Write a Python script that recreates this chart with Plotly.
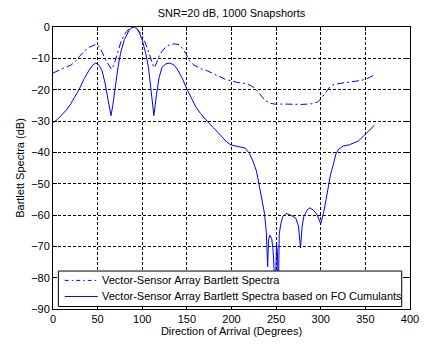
import plotly.graph_objects as go

# Conventional vector-sensor Bartlett spectrum (dash-dot)
conv_deg = [0, 5, 10, 15, 20, 25, 30, 35, 40, 45, 48, 51, 55, 59, 62, 65.5, 68, 70, 73, 76,
            80, 84, 88, 91, 94, 98, 102, 105, 108, 111, 113.5, 116, 119, 122, 126, 131, 136,
            141, 145, 149, 153, 158, 163, 168, 173, 178, 185, 193, 200, 207, 215, 221, 226,
            230, 234, 238, 243, 248, 260, 270, 280, 290, 296, 300, 303, 306, 310, 315, 320,
            326, 332, 340, 346, 351, 356, 360]
conv_db = [-14.7, -14, -13.3, -12.7, -12.2, -11, -9.3, -7.7, -6.5, -5.8, -5.6, -6, -8, -10.5,
           -12, -13.5, -12.3, -10.5, -7.5, -4.8, -2.5, -0.9, -0.1, 0, -0.5, -2, -4, -6, -8.5,
           -11.5, -13, -11.5, -9.3, -7.8, -6.5, -5.6, -5.4, -5.6, -6.8, -8.5, -10.8, -12.2,
           -13, -13.6, -14, -14.6, -15.6, -16.7, -17.3, -17.7, -18, -18.6, -19.5, -20.8,
           -22.3, -23.5, -24.3, -24.6, -24.6, -24.7, -24.7, -24.5, -24, -23, -21.8, -20.5,
           -19.2, -18.3, -18, -17.8, -17.6, -17.3, -17, -16.6, -15.8, -15.3]

# Bartlett spectrum based on fourth-order cumulants (solid)
fo_deg = [0, 5, 10, 15, 20, 25, 30, 35, 40, 45, 48, 52, 55, 58, 61, 63, 65, 67, 70, 73, 76,
          80, 85, 88, 91, 94, 97, 100, 104, 107, 110, 113, 116, 119, 122, 126, 131, 136, 140,
          145, 150, 155, 160, 165, 170, 175, 180, 185, 190, 195, 200, 205, 210, 215, 220,
          224, 228, 231, 234, 237, 239, 240.5, 241.5, 243, 245, 246.5, 247.5, 248.5, 249.5,
          250.5, 251.5, 252.5, 253.5, 255.5, 257.5, 261, 266, 272, 275, 277.3, 279, 281,
          285, 288, 292, 296, 300, 303, 306, 308.5, 311, 314, 317, 320, 325, 332, 337, 342,
          348, 354, 360]
fo_db = [-30.5, -29.5, -28, -26.5, -24.5, -22, -19.5, -16.5, -14, -12, -11.5, -12.3, -14,
         -17.5, -22.5, -26, -28.3, -25, -18.5, -12.5, -8, -4, -1.2, -0.2, 0, -0.5, -2, -4.2,
         -8.5, -13, -20.5, -28.3, -21.5, -16, -13, -11.8, -11.5, -12.2, -13.8, -16.5, -19.8,
         -22.8, -25.5, -27.5, -29.3, -30.8, -32.2, -33.8, -35.3, -36.8, -37.7, -38, -38.2,
         -38.6, -40.3, -42.8, -46, -50.5, -55, -59.5, -65.5, -76.5, -68, -66.5, -67.5, -71,
         -76, -86, -80, -69, -72, -86, -66, -62.5, -60.5, -59.5, -60, -61, -63.5, -70.5,
         -64, -60.5, -58.3, -57.7, -58.5, -60, -62.8, -59.5, -55, -51, -47, -44, -40.5,
         -39, -38, -37.6, -37, -36.4, -34.8, -33.1, -31.4]

series_names = ["Vector-Sensor Array Bartlett Spectra",
                "Vector-Sensor Array Bartlett Spectra based on FO Cumulants"]

x_ticks = [0, 50, 100, 150, 200, 250, 300, 350, 400]
y_ticks = [0, -10, -20, -30, -40, -50, -60, -70, -80, -90]

FONT = "Liberation Sans, Arial, sans-serif"
DASHDOT = "7px,3px,2px,3px"
LEGEND_DASHDOT = "4px,3px,1.5px,3px"

fig = go.Figure()
fig.add_trace(go.Scatter(
    x=conv_deg, y=conv_db, mode="lines", name=series_names[0],
    line=dict(color="#0000ff", width=1, dash=DASHDOT),
))
fig.add_trace(go.Scatter(
    x=fo_deg, y=fo_db, mode="lines", name=series_names[1],
    line=dict(color="#0000ff", width=1),
))

axis_common = dict(
    showline=True, linecolor="black", linewidth=1, mirror="ticks",
    ticks="inside", ticklen=4, tickcolor="black",
    showgrid=True, gridcolor="black", gridwidth=1, griddash="3px,2px",
    zeroline=False, tickfont=dict(family=FONT, size=11, color="black"),
)

# Plot area in pixels: x 53..419, y 27..313 (430x347 page)
W, H = 430, 347
L, R, T, B = 53, 11, 27, 34
PW, PH = W - L - R, H - T - B


def px_x(px):
    return (px - L) / PW


def px_y(py):
    return (H - B - py) / PH


# Legend box drawn like the MATLAB legend (opaque, black border)
shapes = [
    dict(type="rect", xref="paper", yref="paper",
         x0=px_x(58.5), x1=px_x(410.5), y0=px_y(310.5), y1=px_y(274.5),
         fillcolor="white", line=dict(color="black", width=1), layer="above"),
    dict(type="line", xref="paper", yref="paper",
         x0=px_x(65), x1=px_x(99), y0=px_y(284), y1=px_y(284),
         line=dict(color="#0000ff", width=1, dash=LEGEND_DASHDOT), layer="above"),
    dict(type="line", xref="paper", yref="paper",
         x0=px_x(65), x1=px_x(99), y0=px_y(300.3), y1=px_y(300.3),
         line=dict(color="#0000ff", width=1), layer="above"),
]
annotations = [
    dict(xref="paper", yref="paper", x=px_x(101), y=px_y(284), text=series_names[0],
         showarrow=False, xanchor="left", yanchor="middle",
         font=dict(family=FONT, size=11, color="black")),
    dict(xref="paper", yref="paper", x=px_x(101), y=px_y(300.3), text=series_names[1],
         showarrow=False, xanchor="left", yanchor="middle",
         font=dict(family=FONT, size=11, color="black")),
]

fig.update_layout(
    width=W, height=H,
    margin=dict(l=L, r=R, t=T, b=B),
    paper_bgcolor="white", plot_bgcolor="white",
    font=dict(family=FONT, size=11, color="black"),
    title=dict(text="SNR=20 dB, 1000 Snapshorts", xref="paper", x=0.5, xanchor="center",
               y=1 - 13 / H, yanchor="middle",
               font=dict(family=FONT, size=11, color="black")),
    xaxis=dict(range=[0, 400], tickvals=x_ticks,
               title=dict(text="Direction of Arrival (Degrees)", standoff=3,
                          font=dict(family=FONT, size=11, color="black")),
               **axis_common),
    yaxis=dict(range=[-90, 0], tickvals=y_ticks,
               title=dict(text="Bartlett Spectra (dB)", standoff=4,
                          font=dict(family=FONT, size=11, color="black")),
               **axis_common),
    shapes=shapes,
    annotations=annotations,
    showlegend=False,
)

fig.write_html("out.html")
